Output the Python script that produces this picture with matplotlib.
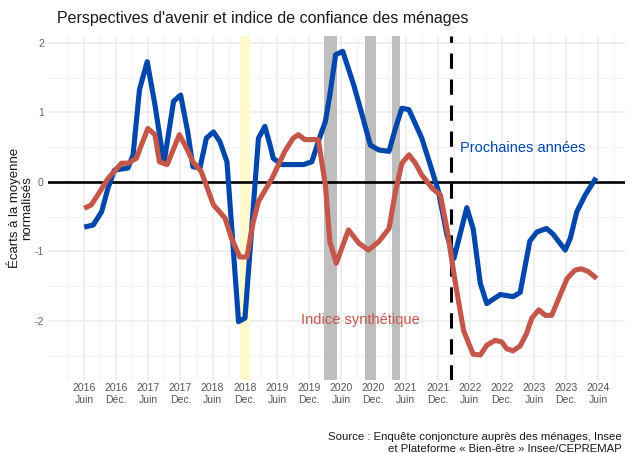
import matplotlib
matplotlib.use('Agg')
import matplotlib.pyplot as plt

# Courbes (dates en années décimales)
annees_bleu = [2016.42, 2016.56, 2016.69, 2016.79, 2016.89, 2017.10, 2017.18, 2017.28,
               2017.40, 2017.52, 2017.66, 2017.81, 2017.92, 2018.03, 2018.11, 2018.22,
               2018.32, 2018.43, 2018.53, 2018.64, 2018.82, 2018.92, 2019.13, 2019.23,
               2019.31, 2019.36, 2019.49, 2019.83, 2019.96, 2020.06, 2020.17, 2020.24,
               2020.33, 2020.44, 2020.61, 2020.74, 2020.87, 2021.00, 2021.16, 2021.26,
               2021.36, 2021.47, 2021.67, 2021.80, 2021.93, 2022.06, 2022.17, 2022.37,
               2022.47, 2022.58, 2022.68, 2022.89, 2023.09, 2023.20, 2023.35, 2023.46,
               2023.61, 2023.71, 2023.90, 2023.98, 2024.08, 2024.21, 2024.38]
prochaines_annees = [-0.65, -0.62, -0.43, -0.09, 0.17, 0.20, 0.39, 1.33,
                     1.73, 1.11, 0.27, 1.16, 1.25, 0.72, 0.22, 0.20,
                     0.63, 0.72, 0.58, 0.29, -2.01, -1.96, 0.63, 0.80,
                     0.53, 0.34, 0.25, 0.25, 0.29, 0.58, 0.87, 1.25,
                     1.83, 1.88, 1.40, 0.97, 0.53, 0.46, 0.44, 0.77,
                     1.06, 1.04, 0.63, 0.25, -0.14, -0.76, -1.10, -0.37,
                     -0.68, -1.46, -1.75, -1.62, -1.65, -1.59, -0.85, -0.72,
                     -0.67, -0.75, -0.98, -0.81, -0.43, -0.19, 0.06]

annees_rouge = [2016.42, 2016.53, 2016.63, 2016.79, 2017.00, 2017.10, 2017.23, 2017.41,
                2017.52, 2017.59, 2017.71, 2017.90, 2018.01, 2018.11, 2018.24, 2018.43,
                2018.61, 2018.71, 2018.84, 2018.95, 2019.05, 2019.13, 2019.34, 2019.54,
                2019.67, 2019.75, 2019.85, 2020.06, 2020.17, 2020.24, 2020.34, 2020.53,
                2020.69, 2020.84, 2021.00, 2021.16, 2021.26, 2021.36, 2021.47, 2021.57,
                2021.67, 2021.83, 2021.96, 2022.06, 2022.19, 2022.32, 2022.42, 2022.47,
                2022.58, 2022.68, 2022.81, 2022.91, 2022.99, 2023.09, 2023.20, 2023.30,
                2023.38, 2023.49, 2023.59, 2023.69, 2023.82, 2023.93, 2024.05, 2024.15,
                2024.26, 2024.39]
indice_synthetique = [-0.38, -0.33, -0.19, 0.05, 0.27, 0.27, 0.34, 0.77,
                      0.68, 0.29, 0.25, 0.68, 0.49, 0.29, 0.15, -0.33,
                      -0.52, -0.81, -1.08, -1.08, -0.57, -0.28, 0.05, 0.44,
                      0.63, 0.68, 0.61, 0.61, -0.04, -0.86, -1.17, -0.69,
                      -0.88, -0.98, -0.86, -0.67, -0.14, 0.27, 0.39, 0.27,
                      0.10, -0.09, -0.19, -0.67, -1.44, -2.14, -2.37, -2.48,
                      -2.49, -2.35, -2.28, -2.30, -2.40, -2.43, -2.36, -2.18,
                      -1.96, -1.84, -1.92, -1.92, -1.63, -1.39, -1.27, -1.25,
                      -1.29, -1.39]

# Périodes mises en évidence : gilets jaunes puis confinements
periodes = [(2018.84, 2019.00, '#fffacd'),
            (2020.15, 2020.35, '#bebebe'),
            (2020.78, 2020.95, '#bebebe'),
            (2021.21, 2021.33, '#bebebe')]
date_ukraine = 2022.12

tick_annees = [2016, 2016, 2017, 2017, 2018, 2018, 2019, 2019, 2020,
               2020, 2021, 2021, 2022, 2022, 2023, 2023, 2024]
tick_mois = ['Juin', 'Déc.', 'Juin', 'Dec.', 'Juin', 'Dec.', 'Juin', 'Dec.', 'Juin',
             'Dec.', 'Juin', 'Dec.', 'Juin', 'Dec.', 'Juin', 'Dec.', 'Juin']

BLEU = '#0047ab'
ROUGE = '#c4574a'


def printGraph():
    plt.rcParams['font.family'] = ['Liberation Sans', 'DejaVu Sans']
    plt.rcParams['axes.unicode_minus'] = False

    fig = plt.figure(figsize=(6.3, 4.53), dpi=100)
    ax = fig.add_axes([48 / 630, 73 / 453, 577 / 630, 344 / 453])

    for debut, fin, couleur in periodes:
        ax.axvspan(debut, fin, color=couleur, lw=0, zorder=1)

    ax.axhline(0, color='black', lw=1.9, zorder=2)
    ax.axvline(date_ukraine, color='black', lw=2.2, linestyle=(0, (5, 3.5)), zorder=2)

    ax.plot(annees_bleu, prochaines_annees, color=BLEU, lw=3.7, zorder=3,
            solid_joinstyle='round', solid_capstyle='butt')
    ax.plot(annees_rouge, indice_synthetique, color=ROUGE, lw=3.7, zorder=4,
            solid_joinstyle='round', solid_capstyle='butt')

    ax.text(2022.26, 0.49, 'Prochaines années', color=BLEU, fontsize=10.5,
            ha='left', va='center', zorder=5)
    ax.text(2020.72, -1.99, 'Indice synthétique', color=ROUGE, fontsize=10.5,
            ha='center', va='center', zorder=5)

    ticks = [a + (5 / 12 if m == 'Juin' else 11 / 12) for a, m in zip(tick_annees, tick_mois)]
    ax.set_xticks(ticks)
    ax.set_xticklabels([f'{a}\n{m}' for a, m in zip(tick_annees, tick_mois)],
                       fontsize=7.5, color='#555555', linespacing=1.25)
    ax.set_xticks([t - 0.25 for t in ticks] + [ticks[-1] + 0.25], minor=True)
    ax.set_yticks([-2, -1, 0, 1, 2])
    ax.set_yticklabels(['-2', '-1', '0', '1', '2'], fontsize=7.5, color='#666666')
    ax.set_yticks([-2.5, -1.5, -0.5, 0.5, 1.5], minor=True)

    ax.set_xlim(2015.857, 2024.83)
    ax.set_ylim(-2.85, 2.10)

    ax.grid(which='major', color='#ebebeb', lw=1.1, zorder=0)
    ax.grid(which='minor', color='#f2f2f2', lw=0.7, zorder=0)
    ax.set_axisbelow(True)
    ax.tick_params(which='both', length=0)
    ax.tick_params(axis='x', pad=2)
    ax.tick_params(axis='y', pad=3)
    for s in ax.spines.values():
        s.set_visible(False)

    fig.text(57 / 630, 1 - 18 / 453, "Perspectives d'avenir et indice de confiance des ménages",
             fontsize=11.5, ha='left', va='center', color='#1a1a1a')
    fig.text(20 / 630, 1 - 208 / 453, 'Écarts à la moyenne\nnormalisés', rotation=90,
             fontsize=9.5, ha='center', va='center', color='#1a1a1a', linespacing=1.05)
    fig.text(622 / 630, 1 - 443 / 453,
             'Source : Enquête conjoncture auprès des ménages, Insee\n'
             'et Plateforme « Bien-être » Insee/CEPREMAP',
             fontsize=8.2, ha='right', va='center', multialignment='right',
             color='#1a1a1a', linespacing=1.3)

    fig.savefig('out.png', dpi=100)


if __name__ == '__main__':
    printGraph()
